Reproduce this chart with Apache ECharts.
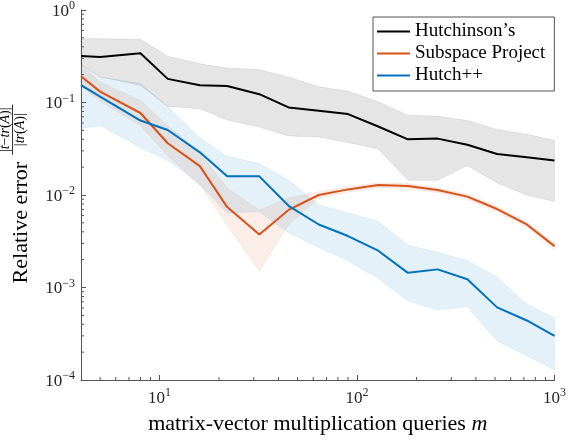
<!DOCTYPE html>
<html>
<head>
<meta charset="utf-8">
<script src="https://cdn.jsdelivr.net/npm/echarts@6/dist/echarts.min.js"></script>
<style>
  html, body { margin: 0; padding: 0; background: #fff; }
  #chart { width: 569px; height: 440px; }
</style>
</head>
<body>
<div id="chart"></div>
<script>
// matrix-vector queries m
const queries = [4, 5, 8, 11, 16, 22, 32, 45, 64, 90, 128, 181, 256, 362, 512, 724, 1000]

// Hutchinson's
const hutchMean = [0.318, 0.311, 0.34, 0.18, 0.154, 0.151, 0.123, 0.0885, 0.0816, 0.075, 0.055, 0.040, 0.0407, 0.0349, 0.0278, 0.0256, 0.0236]
const hutchUpper = [0.49, 0.49, 0.483, 0.316, 0.262, 0.236, 0.226, 0.189, 0.148, 0.133, 0.102, 0.0727, 0.071, 0.0638, 0.051, 0.0453, 0.039]
const hutchLower = [0.26, 0.189, 0.154, 0.0906, 0.0857, 0.0645, 0.0542, 0.0435, 0.0424, 0.0369, 0.0314, 0.0144, 0.0144, 0.0209, 0.0135, 0.0100, 0.0085]

// Subspace Project
const subMean = [0.192, 0.131, 0.077, 0.0363, 0.0205, 0.0074, 0.00375, 0.0069, 0.010, 0.0115, 0.0128, 0.0125, 0.0113, 0.0096, 0.00705, 0.0048, 0.0028]
const subUpper = [0.26, 0.167, 0.105, 0.056, 0.0286, 0.0119, 0.0069, 0.0093, 0.0108, 0.0123, 0.0136, 0.0133, 0.0120, 0.0102, 0.0075, 0.0051, 0.0030]
const subLower = [0.15, 0.103, 0.056, 0.0266, 0.0128, 0.0047, 0.0015, 0.0048, 0.0092, 0.0107, 0.0120, 0.0117, 0.0106, 0.0090, 0.0066, 0.0045, 0.0026]

// Hutch++
const hppMean = [0.154, 0.116, 0.0638, 0.0504, 0.0289, 0.0159, 0.0159, 0.00764, 0.0048, 0.0036, 0.0025, 0.00144, 0.00157, 0.00123, 0.00061, 0.00044, 0.0003]
const hppUpper = [0.26, 0.189, 0.16, 0.09, 0.0417, 0.0262, 0.0219, 0.0144, 0.0078, 0.0064, 0.0052, 0.00287, 0.0024, 0.00195, 0.0013, 0.00066, 0.00047]
const hppLower = [0.0525, 0.0565, 0.0327, 0.0236, 0.013, 0.0064, 0.0066, 0.0039, 0.0027, 0.00195, 0.00125, 0.000715, 0.00057, 0.00062, 0.000264, 0.000183, 0.000128]

const seriesNames = ['Hutchinson\u2019s', 'Subspace Project', 'Hutch++']
const xMin = 4
const xMax = 1000
const yMin = 1e-4
const yMax = 1

const font = '"Liberation Serif", "DejaVu Serif", serif'
const axisColor = '#555'
const nameSize = 22
const fracSize = 14

// minor tick values (2..9 per decade)
const xMinor = []
const yMinor = []
for (let d = 1; d <= 100; d *= 10) {
  for (let k = 2; k <= 9; k++) {
    if (k * d > xMin && k * d < xMax) xMinor.push(k * d)
  }
}
for (let d = 1e-4; d < 1; d *= 10) {
  for (let k = 2; k <= 9; k++) yMinor.push(k * d)
}

function powLabel(v) {
  const e = Math.round(Math.log10(v))
  if (Math.abs(Math.log10(v) - e) > 1e-6) return ''
  return '{b|10}{s|' + String(e).replace('-', '\u2212') + '}'
}

const labelRich = {
  b: { fontFamily: font, fontSize: 17, lineHeight: 20, verticalAlign: 'bottom', color: '#262626' },
  s: { fontFamily: font, fontSize: 12, lineHeight: 7, verticalAlign: 'top', color: '#262626' }
}

// measure the y-name pieces so the fraction sits right after the words
const ctx = document.createElement('canvas').getContext('2d')
ctx.font = nameSize + 'px ' + font
const wordsW = ctx.measureText('Relative error').width
ctx.font = 'italic ' + fracSize + 'px ' + font
const fracW = ctx.measureText('|t\u2212tr(A)|').width + 2
const nameGapW = 7
const totalW = wordsW + nameGapW + fracW
const wordsX = -totalW / 2
const fracX = wordsX + wordsW + nameGapW + fracW / 2

function band(upper, lower, rgb) {
  return {
    type: 'custom',
    silent: true,
    z: 1,
    data: [[queries[0], upper[0]]],
    renderItem: function (params, api) {
      const pts = []
      for (let i = 0; i < queries.length; i++) pts.push(api.coord([queries[i], upper[i]]))
      for (let i = queries.length - 1; i >= 0; i--) pts.push(api.coord([queries[i], lower[i]]))
      return {
        type: 'polygon',
        shape: { points: pts },
        style: { fill: 'rgba(' + rgb + ',0.1)', stroke: 'rgba(' + rgb + ',0.12)', lineWidth: 0.6 }
      }
    }
  }
}

function line(name, values, color) {
  return {
    name: name,
    type: 'line',
    z: 3,
    showSymbol: false,
    silent: true,
    animation: false,
    lineStyle: { color: color, width: 2 },
    itemStyle: { color: color },
    data: queries.map((q, i) => [q, values[i]])
  }
}

const fracRich = {
  u: { fontFamily: font, fontSize: fracSize, fill: '#000' },
  i: { fontFamily: font, fontSize: fracSize, fontStyle: 'italic', fill: '#000' }
}

const chart = echarts.init(document.getElementById('chart'))
chart.setOption({
  animation: false,
  backgroundColor: '#fff',
  grid: { left: 81, right: 10, top: 7, bottom: 56 },
  legend: {
    data: seriesNames,
    orient: 'vertical',
    left: 373,
    top: 17,
    icon: 'rect',
    itemWidth: 33,
    itemHeight: 2,
    itemGap: 3,
    padding: [5, 9, 6, 4],
    borderColor: '#262626',
    borderWidth: 0.8,
    borderRadius: 0,
    backgroundColor: '#fff',
    textStyle: { fontFamily: font, fontSize: 19, color: '#000' }
  },
  xAxis: {
    type: 'log',
    logBase: 10,
    min: xMin,
    max: xMax,
    name: '{a|matrix-vector multiplication queries }{m|m}',
    nameLocation: 'middle',
    nameGap: 33,
    nameTextStyle: {
      rich: {
        a: { fontFamily: font, fontSize: nameSize, color: '#000' },
        m: { fontFamily: font, fontSize: nameSize, fontStyle: 'italic', color: '#000' }
      }
    },
    axisLine: { lineStyle: { color: axisColor, width: 1 } },
    axisTick: { inside: true, length: 5, lineStyle: { color: axisColor } },
    axisLabel: { margin: 7, formatter: powLabel, rich: labelRich, showMinLabel: false },
    splitLine: { show: false }
  },
  yAxis: {
    type: 'log',
    logBase: 10,
    min: yMin,
    max: yMax,
    interval: 1,
    axisLine: { show: true, lineStyle: { color: axisColor, width: 1 } },
    axisTick: { show: true, inside: true, length: 5, lineStyle: { color: axisColor } },
    axisLabel: { margin: 6, formatter: powLabel, rich: labelRich },
    splitLine: { show: false }
  },
  graphic: [{
    type: 'group',
    x: 21,
    y: 194,
    rotation: Math.PI / 2,
    children: [
      {
        type: 'text', x: wordsX, y: 0,
        style: { text: 'Relative error', fontFamily: font, fontSize: nameSize, fill: '#000', textAlign: 'left', textVerticalAlign: 'middle', verticalAlign: 'middle' }
      },
      {
        type: 'text', x: fracX, y: -9,
        style: {
          text: '{u||}{i|t}{u|\u2212}{i|tr}{u|(}{i|A}{u|)|}',
          textAlign: 'center', textVerticalAlign: 'bottom', verticalAlign: 'bottom', fill: '#000',
          rich: fracRich
        }
      },
      {
        type: 'line',
        shape: { x1: fracX - fracW / 2, y1: -8.5, x2: fracX + fracW / 2, y2: -8.5 },
        style: { stroke: '#000', lineWidth: 0.8 }
      },
      {
        type: 'text', x: fracX, y: -7.5,
        style: {
          text: '{u||}{i|tr}{u|(}{i|A}{u|)|}',
          textAlign: 'center', textVerticalAlign: 'top', verticalAlign: 'top', fill: '#000',
          rich: fracRich
        }
      }
    ]
  }],
  series: [
    band(hutchUpper, hutchLower, '0,0,0'),
    band(subUpper, subLower, '217,83,25'),
    band(hppUpper, hppLower, '0,114,189'),
    {
      type: 'custom',
      silent: true,
      z: 2,
      data: xMinor.map(v => [v, yMin]),
      renderItem: function (params, api) {
        const p = api.coord([api.value(0), api.value(1)])
        return { type: 'line', shape: { x1: p[0], y1: p[1], x2: p[0], y2: p[1] - 3 }, style: { stroke: axisColor, lineWidth: 1 } }
      }
    },
    {
      type: 'custom',
      silent: true,
      z: 2,
      data: yMinor.map(v => [xMin, v]),
      renderItem: function (params, api) {
        const p = api.coord([api.value(0), api.value(1)])
        return { type: 'line', shape: { x1: p[0], y1: p[1], x2: p[0] + 3, y2: p[1] }, style: { stroke: axisColor, lineWidth: 1 } }
      }
    },
    line(seriesNames[0], hutchMean, '#000000'),
    line(seriesNames[1], subMean, '#D95319'),
    line(seriesNames[2], hppMean, '#0072BD')
  ]
})
</script>
</body>
</html>
